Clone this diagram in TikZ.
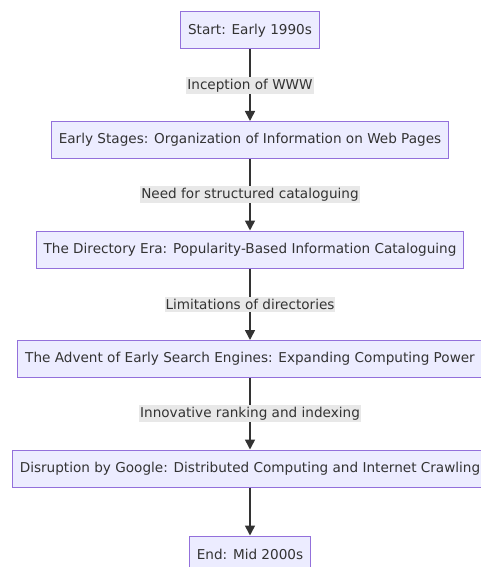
\documentclass[tikz,border=0pt]{standalone}
\usepackage{fontspec}
\setmainfont{DejaVu Sans}
\usetikzlibrary{positioning}
\usetikzlibrary{arrows.meta}

\definecolor{boxfill}{HTML}{ECECFF}
\definecolor{boxline}{HTML}{9370DB}
\definecolor{ink}{HTML}{333333}
\definecolor{labelbg}{HTML}{E8E8E8}

\begin{document}
\begin{tikzpicture}[node distance=71.5pt,
    stage/.style={draw=boxline, fill=boxfill, line width=1pt, text=ink,
        minimum height=37pt, inner xsep=7.5pt, font=\fontsize{13.6}{16}\selectfont},
    reason/.style={fill=labelbg, text=ink, inner xsep=1pt, inner ysep=2pt,
        font=\fontsize{13.6}{16}\selectfont},
    flow/.style={draw=ink, line width=1.6pt, -{Triangle[width=10pt,length=10pt]}}]

    \useasboundingbox (0,0) rectangle (481pt,-567pt);
    \clip (0,0) rectangle (481pt,-567pt);

    \node(start)[stage] at (250pt,-30.5pt){Start: Early 1990s};
    \node(early)[stage, below=of start]{Early Stages: Organization of Information on Web Pages};
    \node(directory)[stage, below=of early]{The Directory Era: Popularity-Based Information Cataloguing};
    \node(advent)[stage, below=of directory]{The Advent of Early Search Engines: Expanding Computing Power};
    \node(google)[stage, below=of advent]{Disruption by Google: Distributed Computing and Internet Crawling};
    \node(end)[stage, below=48pt of google]{End: Mid 2000s};

    \draw[flow] (start) -- node[reason]{Inception of WWW} (early);
    \draw[flow] (early) -- node[reason]{Need for structured cataloguing} (directory);
    \draw[flow] (directory) -- node[reason]{Limitations of directories} (advent);
    \draw[flow] (advent) -- node[reason]{Innovative ranking and indexing} (google);
    \draw[flow] (google) -- (end);

\end{tikzpicture}
\end{document}
